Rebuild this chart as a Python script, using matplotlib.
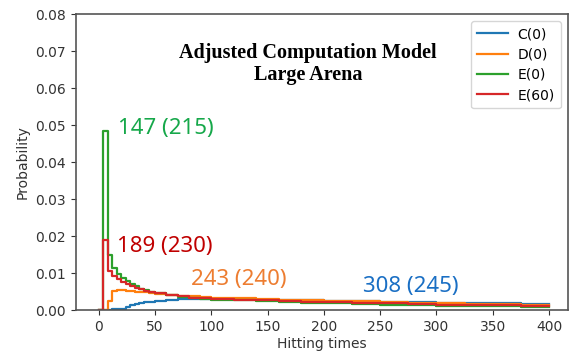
import matplotlib
matplotlib.use("Agg")
import matplotlib.pyplot as plt

# Hitting time grid (left edges of steps)
t = [0, 4, 8, 12, 16, 20, 24, 28, 32, 36, 40, 45, 50, 60, 70, 80, 90, 100,
     120, 140, 160, 180, 200, 225, 250, 275, 300, 325, 350, 375, 400]

c0 = [0.0, 0.0, 0.0001, 0.0002, 0.0003, 0.0004, 0.0009, 0.0013, 0.0016, 0.0019, 0.0021,
      0.0023, 0.0025, 0.0027, 0.0029, 0.0030, 0.0030, 0.0030,
      0.0029, 0.0028, 0.0027, 0.0026, 0.0025, 0.0024, 0.0023, 0.0021, 0.0020, 0.0019, 0.0018,
      0.0017, 0.0016]
d0 = [0.0, 0.0, 0.0025, 0.0052, 0.0055, 0.0054, 0.0052, 0.0051, 0.0050, 0.0049, 0.0048,
      0.0046, 0.0044, 0.0041, 0.0039, 0.0037, 0.0036, 0.0034,
      0.0032, 0.0030, 0.0028, 0.0027, 0.0025, 0.0024, 0.0022, 0.0020, 0.0019, 0.0017, 0.0016,
      0.0015, 0.0014]
e0 = [0.0, 0.0485, 0.0148, 0.0115, 0.0098, 0.0088, 0.0078, 0.0070, 0.0064, 0.0058, 0.0054,
      0.0050, 0.0046, 0.0041, 0.0036, 0.0033, 0.0030, 0.0028,
      0.0026, 0.0024, 0.0022, 0.0020, 0.0018, 0.0016, 0.0015, 0.0013, 0.0012, 0.0011, 0.0010,
      0.0009, 0.0009]
e60 = [0.0, 0.0190, 0.0105, 0.0092, 0.0083, 0.0076, 0.0070, 0.0064, 0.0060, 0.0056, 0.0052,
       0.0049, 0.0046, 0.0041, 0.0037, 0.0034, 0.0032, 0.0030,
       0.0028, 0.0026, 0.0024, 0.0022, 0.0021, 0.0019, 0.0018, 0.0016, 0.0015, 0.0014, 0.0013,
       0.0012, 0.0012]

series = {"C(0)": c0, "D(0)": d0, "E(0)": e0, "E(60)": e60}
colors = ["#1f77b4", "#ff7f0e", "#2ca02c", "#d62728"]

annotations = ["147 (215)", "189 (230)", "243 (240)", "308 (245)"]
ann_x = [17, 16, 82, 235]
ann_y = [0.0491, 0.0172, 0.0083, 0.0064]
ann_colors = ["#16a84a", "#c00000", "#ed7d31", "#1a6fc4"]

fig = plt.figure(figsize=(5.75, 3.54), dpi=100)
ax = fig.add_axes([0.132, 0.124, 0.856, 0.836])

for (name, vals), col in zip(series.items(), colors):
    ax.plot(t, vals, drawstyle="steps-post", color=col, lw=1.6, label=name)

ax.set_xlim(-20.4, 417)
ax.set_ylim(0, 0.08)
ax.set_xticks(range(0, 401, 50))
ax.set_yticks([i / 100 for i in range(0, 9)])
ax.yaxis.set_major_formatter(matplotlib.ticker.FormatStrFormatter("%.2f"))
ax.tick_params(labelsize=10, colors="#333333", labelcolor="#333333")
ax.set_xlabel("Hitting times", fontsize=10, color="#333333", labelpad=2)
ax.set_ylabel("Probability", fontsize=10, color="#333333", labelpad=4)
for s in ax.spines.values():
    s.set_color("#555555")
    s.set_linewidth(1.2)

ax.legend(loc="upper right", fontsize=10, handlelength=2.2, borderpad=0.45,
          labelspacing=0.45, handletextpad=0.7)

ax.text(0.472, 0.831, "Adjusted Computation Model\nLarge Arena", transform=ax.transAxes,
        ha="center", va="center", family="Liberation Serif", fontweight="bold",
        fontsize=14.5, linespacing=1.15)

for txt, x, y, col in zip(annotations, ann_x, ann_y, ann_colors):
    ax.text(x, y, txt, color=col, fontsize=16, family="Noto Sans",
            ha="left", va="center")

fig.savefig("out.png", dpi=100)
